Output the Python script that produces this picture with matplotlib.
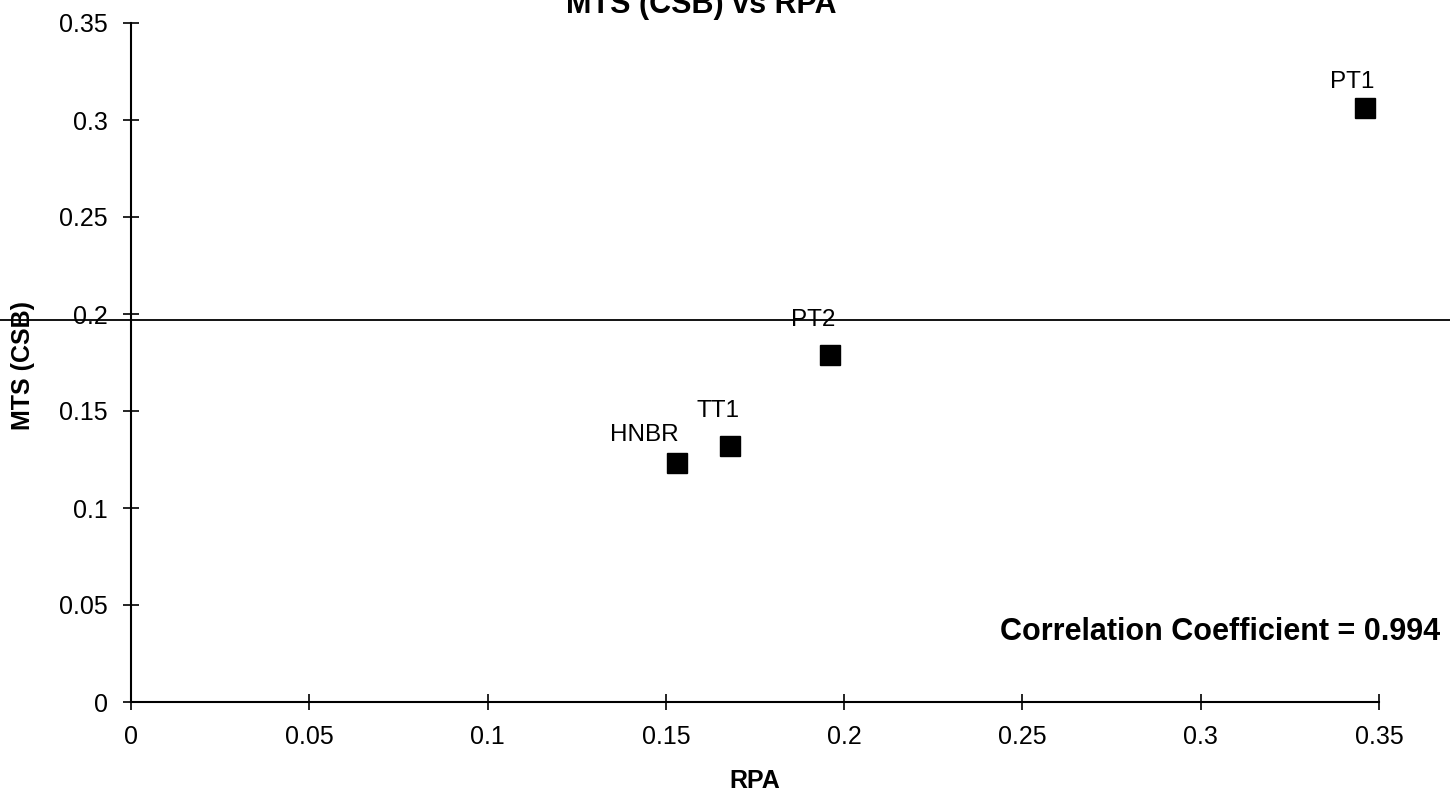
import matplotlib
matplotlib.use("Agg")
import matplotlib.pyplot as plt
from matplotlib.lines import Line2D

plt.rcParams['font.family'] = ['Liberation Sans', 'DejaVu Sans']

# data
names = ["PT1", "PT2", "TT1", "HNBR"]
rpa = [0.346, 0.196, 0.168, 0.153]
mts = [0.306, 0.179, 0.132, 0.123]
ticks = [0, 0.05, 0.1, 0.15, 0.2, 0.25, 0.3, 0.35]
tick_labels = ["0", "0.05", "0.1", "0.15", "0.2", "0.25", "0.3", "0.35"]

# label offsets in pixels from each marker
label_offsets = {"PT1": (-13, 20), "PT2": (-17, 29), "TT1": (-12, 29), "HNBR": (-32, 22)}

W, H = 1450, 798
fig = plt.figure(figsize=(W / 100, H / 100), dpi=100)
ax = fig.add_axes([131 / W, 1 - 702 / H, (1379 - 131) / W, (702 - 23) / H])

ax.plot(rpa, mts, linestyle="none", marker="s", markersize=14.5, color="black")
for n, x, y in zip(names, rpa, mts):
    dx, dy = label_offsets[n]
    ax.annotate(n, (x, y), xytext=(dx, dy), textcoords="offset pixels",
                ha="center", va="baseline", fontsize=17.5)

ax.set_xlim(0, 0.35)
ax.set_ylim(0, 0.35)
ax.set_xticks(ticks)
ax.set_xticklabels(tick_labels)
ax.set_yticks(ticks)
ax.set_yticklabels(tick_labels)
ax.tick_params(direction="inout", length=11, width=1.2, labelsize=18)
ax.tick_params(axis="x", pad=11)
ax.tick_params(axis="y", pad=11)
for s in ["top", "right"]:
    ax.spines[s].set_visible(False)
for s in ["left", "bottom"]:
    ax.spines[s].set_linewidth(1.5)

# stray horizontal line from the scan
fig.add_artist(Line2D([0, 1], [1 - 320 / H, 1 - 320 / H], color="black", linewidth=1.3))

fig.text(701 / W, 1 - 13 / H, "MTS (CSB) vs RPA", ha="center", va="baseline",
         fontsize=22, fontweight="bold")
fig.text(755 / W, 1 - 788 / H, "RPA", ha="center", va="baseline",
         fontsize=18, fontweight="bold")
fig.text(23 / W, 1 - 365 / H, "MTS (CSB)", ha="center", va="center", rotation=90,
         fontsize=18, fontweight="bold")
fig.text(1440 / W, 1 - 640 / H, "Correlation Coefficient = 0.994", ha="right",
         va="baseline", fontsize=22, fontweight="bold")

fig.savefig("out.png", dpi=100)
